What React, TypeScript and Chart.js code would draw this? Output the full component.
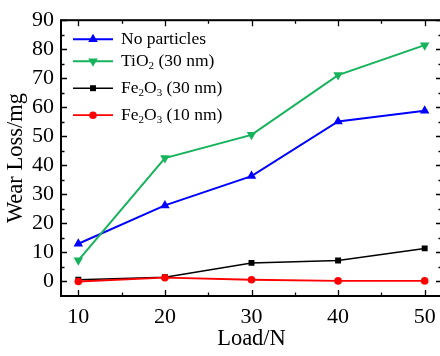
import { useEffect, useRef } from 'react';
import { Chart, registerables } from 'chart.js';

Chart.register(...registerables);

const loads = [10, 20, 30, 40, 50];
const noParticles = [13, 26.2, 36.3, 55.1, 58.8];
const tio2Nm30 = [7.3, 42.5, 50.5, 71.1, 81.4];
const fe2o3Nm30 = [0.6, 1.5, 6.4, 7.2, 11.4];
const fe2o3Nm10 = [0, 1.3, 0.6, 0.2, 0.2];
const seriesNames = ['No particles', 'TiO_2 (30 nm)', 'Fe_2O_3 (30 nm)', 'Fe_2O_3 (10 nm)'];
const seriesColors = ['#0000ff', '#16b35c', '#000000', '#ff0000'];
const xMajorTicks = [10, 20, 30, 40, 50];
const xMinorTicks = [15, 25, 35, 45];
const yMajorTicks = [0, 10, 20, 30, 40, 50, 60, 70, 80, 90];
const yMinorTicks = [5, 15, 25, 35, 45, 55, 65, 75, 85];

const FONT = '"Liberation Serif", "Times New Roman", serif';

function drawMarker(ctx: CanvasRenderingContext2D, style: string, x: number, y: number, r: number, rot: number) {
  ctx.beginPath();
  if (style === 'triangle') {
    const dir = rot === 180 ? -1 : 1;
    for (let i = 0; i < 3; i++) {
      const a = -Math.PI / 2 + (i * 2 * Math.PI) / 3;
      const px = x + r * Math.cos(a);
      const py = y + dir * r * Math.sin(a);
      if (i === 0) ctx.moveTo(px, py);
      else ctx.lineTo(px, py);
    }
    ctx.closePath();
  } else if (style === 'rect') {
    const s = r * Math.SQRT1_2;
    ctx.rect(x - s, y - s, 2 * s, 2 * s);
  } else {
    ctx.arc(x, y, r, 0, Math.PI * 2);
  }
  ctx.fill();
}

function drawRichText(ctx: CanvasRenderingContext2D, text: string, x: number, y: number) {
  const parts = text.split(/(_\d)/);
  let cx = x;
  for (const p of parts) {
    if (!p) continue;
    if (p.startsWith('_')) {
      ctx.font = `11px ${FONT}`;
      ctx.fillText(p.slice(1), cx, y + 5);
      cx += ctx.measureText(p.slice(1)).width;
    } else {
      ctx.font = `17.5px ${FONT}`;
      ctx.fillText(p, cx, y);
      cx += ctx.measureText(p).width;
    }
  }
}

const framePlugin = {
  id: 'frameTicksLegend',
  afterDraw(chart: any) {
    const { ctx, chartArea } = chart;
    const { left, right, top, bottom } = chartArea;
    const xs = chart.scales.x;
    const ys = chart.scales.y;
    ctx.save();
    ctx.strokeStyle = '#000';
    ctx.lineWidth = 2;
    ctx.strokeRect(left, top, right - left, bottom - top);
    ctx.lineWidth = 1.3;
    ctx.beginPath();
    const xt = (v: number, len: number) => {
      const px = Math.round(xs.getPixelForValue(v)) + 0.5;
      ctx.moveTo(px, bottom);
      ctx.lineTo(px, bottom - len);
      ctx.moveTo(px, top);
      ctx.lineTo(px, top + len);
    };
    const yt = (v: number, len: number) => {
      const py = Math.round(ys.getPixelForValue(v)) + 0.5;
      ctx.moveTo(left, py);
      ctx.lineTo(left + len, py);
      ctx.moveTo(right, py);
      ctx.lineTo(right - len, py);
    };
    xMajorTicks.forEach((v) => xt(v, 6));
    xMinorTicks.forEach((v) => xt(v, 3.5));
    yMajorTicks.forEach((v) => yt(v, 6));
    yMinorTicks.forEach((v) => yt(v, 3.5));
    ctx.stroke();

    // legend
    const rowOffsets = [19, 41, 68, 95];
    chart.data.datasets.forEach((ds: any, i: number) => {
      const cy = top + rowOffsets[i];
      ctx.strokeStyle = ds.borderColor;
      ctx.fillStyle = ds.borderColor;
      ctx.lineWidth = ds.borderWidth;
      ctx.beginPath();
      ctx.moveTo(left + 12, cy);
      ctx.lineTo(left + 52, cy);
      ctx.stroke();
      drawMarker(ctx, ds.pointStyle, left + 32, cy, ds.pointRadius, ds.pointRotation || 0);
      ctx.fillStyle = '#000';
      ctx.textBaseline = 'middle';
      ctx.textAlign = 'left';
      drawRichText(ctx, seriesNames[i], left + 60, cy);
    });
    ctx.restore();
  },
};

export default function App() {
  const ref = useRef<HTMLCanvasElement>(null);
  useEffect(() => {
    if (!ref.current) return;
    const mk = (vals: number[]) => loads.map((x, i) => ({ x, y: vals[i] }));
    const chart = new Chart(ref.current, {
      type: 'line',
      data: {
        datasets: [
          {
            label: seriesNames[0],
            data: mk(noParticles),
            borderColor: seriesColors[0],
            backgroundColor: seriesColors[0],
            borderWidth: 2,
            pointStyle: 'triangle',
            pointRadius: 5.5,
            pointBorderWidth: 0,
            order: 3,
          },
          {
            label: seriesNames[1],
            data: mk(tio2Nm30),
            borderColor: seriesColors[1],
            backgroundColor: seriesColors[1],
            borderWidth: 2,
            pointStyle: 'triangle',
            pointRotation: 180,
            pointRadius: 5.5,
            pointBorderWidth: 0,
            order: 2,
          },
          {
            label: seriesNames[2],
            data: mk(fe2o3Nm30),
            borderColor: seriesColors[2],
            backgroundColor: seriesColors[2],
            borderWidth: 1.5,
            pointStyle: 'rect',
            pointRadius: 4.2,
            pointBorderWidth: 0,
            order: 1,
          },
          {
            label: seriesNames[3],
            data: mk(fe2o3Nm10),
            borderColor: seriesColors[3],
            backgroundColor: seriesColors[3],
            borderWidth: 1.8,
            pointStyle: 'circle',
            pointRadius: 3.8,
            pointBorderWidth: 0,
            order: 0,
          },
        ],
      },
      options: {
        animation: false,
        responsive: false,
        layout: { padding: { top: 18, right: 8, left: 0, bottom: 0 } },
        plugins: { legend: { display: false }, tooltip: { enabled: false } },
        scales: {
          x: {
            type: 'linear',
            min: 8,
            max: 52,
            afterBuildTicks: (s: any) => {
              s.ticks = xMajorTicks.map((v) => ({ value: v }));
            },
            afterFit: (s: any) => {
              s.height = 60;
            },
            grid: { display: false, drawTicks: false },
            border: { display: false },
            ticks: { color: '#000', padding: 8, font: { family: FONT, size: 22 }, maxRotation: 0 },
            title: {
              display: true,
              text: 'Load/N',
              color: '#000',
              font: { family: FONT, size: 22.5 },
              padding: { top: 0, bottom: 3 },
            },
          },
          y: {
            type: 'linear',
            min: -5,
            max: 90,
            afterBuildTicks: (s: any) => {
              s.ticks = yMajorTicks.map((v) => ({ value: v }));
            },
            afterFit: (s: any) => {
              s.width = 61;
            },
            grid: { display: false, drawTicks: false },
            border: { display: false },
            ticks: { color: '#000', padding: 7, font: { family: FONT, size: 22 } },
            title: {
              display: true,
              text: 'Wear Loss/mg',
              color: '#000',
              font: { family: FONT, size: 22.5 },
              padding: { top: 3, bottom: 0 },
            },
          },
        },
      },
      plugins: [framePlugin],
    } as any);
    return () => chart.destroy();
  }, []);
  return (
    <div style={{ position: 'fixed', left: 0, top: 0, width: 440, height: 356, overflow: 'hidden', background: '#fff' }}>
      <canvas ref={ref} width={450} height={356} style={{ display: 'block' }} />
    </div>
  );
}
